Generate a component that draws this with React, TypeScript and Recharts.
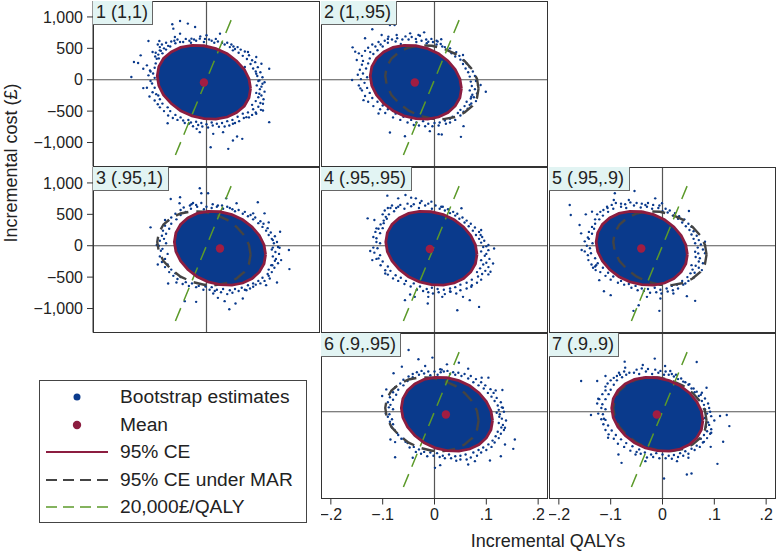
import { ScatterChart, Scatter, XAxis, YAxis } from "recharts";

type Pair = [number, number];

const xTicks = [-0.2, -0.1, 0, 0.1, 0.2];
const yTicks = [-1000, -500, 0, 500, 1000];
const xDomain: Pair = [-0.219, 0.219];
const yDomain: Pair = [-1382, 1254];

const thresholdLine: Pair[] = [[-0.06, -1200], [0.0525, 1050]];
const zeroH: Pair[] = [[-0.219, 0], [0.219, 0]];
const zeroV: Pair[] = [[0, -1382], [0, 1254]];

// confidence ellipses, y is about the same in every panel
const ceY = [-141, 13, 163, 299, 413, 495, 541, 547, 514, 442, 338, 208, 61, -93, -243, -379, -493, -575, -621, -627, -594, -522, -418, -288, -141];
const ce1X = [.085, .082, .073, .058, .040, .018, -.005, -.028, -.050, -.068, -.083, -.092, -.095, -.092, -.083, -.068, -.050, -.028, -.005, .018, .040, .058, .073, .082, .085];
const ce2X = [.052, .049, .040, .026, .008, -.013, -.036, -.059, -.080, -.098, -.112, -.121, -.124, -.121, -.112, -.098, -.080, -.059, -.036, -.013, .008, .026, .040, .049, .052];
const ce3X = [.114, .111, .102, .088, .070, .049, .026, .003, -.018, -.036, -.050, -.059, -.062, -.059, -.050, -.036, -.018, .003, .026, .049, .070, .088, .102, .111, .114];
const ce4X = [.082, .079, .070, .056, .038, .017, -.006, -.029, -.050, -.068, -.082, -.091, -.094, -.091, -.082, -.068, -.050, -.029, -.006, .017, .038, .056, .070, .079, .082];
const ce5X = [.048, .045, .036, .022, .004, -.017, -.040, -.063, -.084, -.102, -.116, -.125, -.128, -.125, -.116, -.102, -.084, -.063, -.040, -.017, .004, .022, .036, .045, .048];
const ce6X = [.112, .109, .100, .086, .068, .047, .024, .001, -.020, -.038, -.052, -.061, -.064, -.061, -.052, -.038, -.020, .001, .024, .047, .068, .086, .100, .109, .112];
const ce7X = [.078, .075, .066, .052, .034, .013, -.010, -.033, -.054, -.072, -.086, -.095, -.098, -.095, -.086, -.072, -.054, -.033, -.010, .013, .034, .052, .066, .075, .078];

// bootstrap estimates outside the solid core, read by eye
const cloud1: Pair[] = [
  [-.051, 936], [-.066, 883], [-.036, 894], [-.022, 840], [-.064, 814], [-.051, 734], [-.061, 681], [-.112, 617], [-.091, 617], [-.145, 43], [-.140, 282], [-.132, 266], [-.127, 388], [-.122, 176], [-.115, 229], [-.109, 149], [-.122, -133], [-.115, -128], [-.110, -266], [-.100, -128], [-.093, -250], [-.090, 468], [-.104, 441], [-.096, 335], [-.075, -692], [.121, 176], [.121, -676], [.106, 255], [.096, 362], [.080, 441], [.108, -64], [.109, -490], [.008, -1075], [.042, -1101], [.069, -942], [.059, -904], [.051, -968], [.013, -862], [-.019, -782], [-.045, -649], [-.013, -835], [.032, -835], [.051, -702], [.077, -596], [.096, -543], [.109, -383], [.102, -223], [.102, -11], [.096, 96], [.074, 202], [.051, 468], [.026, 734], [0, 708], [-.013, 654], [-.029, 654], [-.051, 601],
  [-.06, 580], [-.045, 600], [-.03, 590], [-.02, 620], [-.005, 600], [.005, 640], [.015, 590], [.022, 610], [.035, 560], [.045, 520], [.055, 490], [.062, 430], [.07, 380], [.078, 330], [.085, 250], [.09, 180], [.095, 130], [.098, 60], [.1, -20], [.097, -90], [.103, -150], [.096, -210], [.1, -280], [.095, -340], [.088, -400], [.09, -470], [.08, -520], [.07, -540], [.06, -590], [.05, -640], [.04, -660], [.03, -690], [.02, -700], [.01, -680], [0, -710], [-.01, -690], [-.02, -670], [-.03, -680], [-.035, -640], [-.05, -600], [-.06, -560], [-.07, -500], [-.075, -440], [-.085, -380], [-.09, -310], [-.097, -230], [-.105, -60], [-.1, 30], [-.103, 100], [-.1, 190], [-.098, 260], [-.092, 340], [-.085, 420], [-.078, 480], [-.07, 530],
  [-.094, 560], [-.09, 520], [-.086, 560], [-.082, 500], [-.078, 590], [-.074, 540], [-.098, 430], [-.093, 400], [-.088, 460], [-.099, 370], [-.068, 610], [-.062, 620], [-.056, 640], [-.04, 650], [-.033, 620], [-.024, 640], [-.012, 690], [-.003, 650], [.01, 620], [.018, 650], [.03, 590], [.04, 590], [.048, 560], [.052, 530], [.06, 520], [.066, 480], [.074, 450], [.082, 390], [.088, 310], [.094, 280], [.099, 200], [.104, 120], [.108, 40], [.112, -40], [.106, -110], [.112, -190], [.106, -250], [.11, -310], [.104, -370], [.1, -430], [.105, -480], [.095, -520], [.088, -560], [.082, -600], [.072, -610], [.063, -660], [.055, -690], [.044, -730], [.035, -745], [.024, -750], [.012, -730], [.003, -760], [-.008, -745], [-.016, -720], [-.026, -740], [-.034, -700], [-.042, -690], [-.056, -640], [-.065, -610], [-.074, -570], [-.082, -500], [-.09, -440], [-.094, -390], [-.1, -330], [-.104, -200], [-.108, -20], [-.112, 70], [-.108, 130],
];
const cloud2: Pair[] = [
  [-.120, 803], [-.086, 872], [-.077, 872], [-.073, 713], [-.089, 686], [-.102, 713], [-.134, 660], [-.158, 516], [-.153, 447], [-.150, 314], [-.159, -5], [-.143, -138], [-.137, -325], [-.108, -537], [-.086, -840], [-.057, -899], [-.009, -819], [.008, -867], [.014, -872], [.051, -910], [.056, -739], [.099, -192], [.089, -85], [.071, -271], [.071, -378], [.055, 394], [.039, 420], [.013, 644], [.004, 622], [-.020, 755], [-.031, 713], [-.047, 739], [-.012, 606],
  [-.09, 590], [-.075, 610], [-.065, 570], [-.05, 640], [-.035, 600], [-.025, 620], [-.015, 580], [-.003, 600], [.004, 560], [.015, 530], [.025, 480], [.033, 420], [.04, 370], [.05, 320], [.055, 250], [.06, 180], [.065, 120], [.068, 50], [.07, -30], [.072, -100], [.068, -170], [.073, -240], [.07, -300], [.062, -350], [.058, -420], [.05, -480], [.045, -530], [.035, -590], [.03, -620], [.02, -650], [.01, -680], [0, -690], [-.012, -700], [-.022, -660], [-.035, -680], [-.045, -640], [-.06, -590], [-.075, -540], [-.09, -470], [-.1, -410], [-.11, -350], [-.12, -290], [-.125, -210], [-.13, -130], [-.135, -50], [-.13, 40], [-.138, 100], [-.132, 180], [-.128, 260], [-.125, 340], [-.118, 410], [-.11, 470], [-.1, 530],
  [-.146, 420], [-.14, 380], [-.134, 460], [-.128, 510], [-.124, 440], [-.12, 560], [-.114, 530], [-.108, 600], [-.104, 560], [-.096, 620], [-.09, 650], [-.082, 640], [-.072, 660], [-.062, 640], [-.056, 690], [-.044, 680], [-.036, 650], [-.028, 700], [-.016, 640], [-.006, 650], [.006, 610], [.012, 570], [.02, 520], [.03, 500], [.042, 440], [.048, 380], [.056, 310], [.062, 260], [.068, 200], [.074, 130], [.078, 60], [.08, -20], [.084, -90], [.078, -150], [.082, -220], [.076, -280], [.08, -340], [.068, -400], [.064, -460], [.056, -510], [.05, -570], [.04, -640], [.03, -680], [.022, -700], [.008, -730], [-.004, -740], [-.018, -740], [-.03, -730], [-.04, -720], [-.052, -680], [-.066, -640], [-.08, -600], [-.095, -530], [-.105, -470], [-.118, -420], [-.128, -350], [-.134, -260], [-.14, -170], [-.146, -90], [-.142, 10], [-.148, 80], [-.144, 160], [-.14, 240], [-.138, 300],
];
const cloud3: Pair[] = [
  [-.013, 915], [.003, 835], [-.010, 835], [-.069, 745], [-.051, 771], [-.052, 676], [-.029, 660], [.038, 755], [.099, 692], [.058, 676], [-.108, 293], [.142, 223], [.159, -69], [.160, -372], [.144, -229], [.136, -585], [-.094, -298], [-.074, -601], [-.058, -585], [-.042, -883], [-.020, -894], [.013, -761], [.022, -830], [.035, -883], [.044, -1011], [.056, -920], [.070, -840], [.077, -708], [.090, -654], [.115, -628], [.122, -521], [.125, -309], [.141, -32], [.128, 90], [.120, 372], [.112, 516], [.090, 516], [-.096, 11], [-.080, 410],
  [-.03, 590], [-.018, 620], [-.005, 580], [.01, 600], [.022, 640], [.032, 590], [.045, 600], [.055, 550], [.07, 510], [.08, 470], [.09, 420], [.1, 360], [.108, 300], [.115, 240], [.12, 170], [.126, 110], [.13, 40], [.128, -30], [.133, -100], [.128, -170], [.132, -240], [.127, -310], [.12, -380], [.118, -450], [.108, -510], [.1, -560], [.09, -600], [.08, -630], [.068, -670], [.055, -690], [.045, -710], [.032, -690], [.02, -700], [.01, -660], [-.002, -650], [-.015, -640], [-.028, -600], [-.04, -580], [-.05, -500], [-.06, -440], [-.068, -380], [-.075, -300], [-.08, -210], [-.075, -130], [-.085, -50], [-.078, 40], [-.082, 110], [-.078, 190], [-.072, 270], [-.068, 350], [-.058, 420], [-.05, 490], [-.04, 540],
  [-.032, 640], [-.026, 680], [-.02, 650], [-.01, 680], [0, 620], [.012, 660], [.02, 620], [.03, 640], [.04, 620], [.05, 580], [.062, 570], [.074, 540], [.085, 490], [.094, 450], [.104, 390], [.11, 350], [.118, 280], [.124, 210], [.132, 150], [.136, 60], [.138, -20], [.126, -60], [.14, -130], [.134, -210], [.138, -280], [.131, -350], [.126, -420], [.12, -480], [.112, -560], [.104, -600], [.095, -620], [.084, -680], [.074, -700], [.062, -720], [.05, -750], [.04, -770], [.028, -740], [.016, -720], [.006, -700], [-.006, -700], [-.02, -660], [-.034, -640], [-.046, -610], [-.056, -530], [-.064, -480], [-.072, -420], [-.08, -340], [-.086, -260], [-.09, -170], [-.088, -80], [-.092, 0], [-.09, 80], [-.086, 160], [-.084, 240], [-.08, 320], [-.074, 400], [-.068, 450], [-.06, 510], [-.05, 570], [-.044, 610],
];
const cloud4: Pair[] = [
  [-.091, 798], [-.056, 809], [-.045, 766], [-.070, 755], [-.129, 436], [-.116, 410], [-.112, 277], [-.124, -85], [-.120, -229], [-.108, -202], [-.095, -442], [-.057, -867], [-.047, -777], [-.038, -814], [-.013, -920], [-.012, -814], [.015, -814], [.031, -734], [.044, -1027], [.086, -974], [.068, -867], [.055, -814], [.071, -654], [.104, -457], [.108, -415], [.113, -282], [.115, -43], [.104, 11], [.090, 250], [.089, 170], [.052, 596], [.013, 622], [-.006, 702], [-.025, 713], [-.036, 755],
  [-.085, 600], [-.07, 620], [-.058, 590], [-.045, 630], [-.03, 600], [-.018, 640], [-.005, 590], [.01, 590], [.02, 560], [.03, 520], [.04, 480], [.048, 430], [.058, 370], [.066, 310], [.074, 240], [.08, 170], [.086, 110], [.09, 50], [.094, -20], [.09, -90], [.097, -160], [.09, -230], [.094, -300], [.088, -360], [.082, -420], [.084, -490], [.072, -540], [.062, -590], [.05, -620], [.04, -660], [.03, -680], [.018, -700], [.006, -690], [-.005, -670], [-.015, -690], [-.028, -650], [-.04, -600], [-.055, -560], [-.065, -510], [-.075, -470], [-.085, -400], [-.09, -330], [-.1, -250], [-.105, -150], [-.11, -40], [-.105, 40], [-.112, 120], [-.105, 200], [-.1, 280], [-.098, 360], [-.092, 430], [-.088, 500], [-.078, 550],
  [-.1, 500], [-.096, 560], [-.094, 460], [-.098, 400], [-.104, 340], [-.108, 270], [-.09, 600], [-.082, 640], [-.074, 600], [-.066, 650], [-.052, 670], [-.04, 660], [-.028, 680], [-.012, 670], [.002, 640], [.016, 620], [.026, 580], [.036, 540], [.044, 510], [.054, 450], [.062, 400], [.07, 350], [.078, 290], [.086, 220], [.092, 140], [.096, 80], [.1, -10], [.104, -70], [.1, -130], [.106, -210], [.1, -270], [.104, -340], [.098, -400], [.092, -450], [.09, -540], [.082, -590], [.072, -630], [.062, -680], [.05, -710], [.042, -760], [.03, -730], [.02, -770], [.008, -740], [-.003, -760], [-.012, -740], [-.022, -720], [-.034, -700], [-.046, -650], [-.058, -610], [-.07, -560], [-.08, -520], [-.09, -460], [-.095, -390], [-.104, -310], [-.112, -210], [-.116, -110], [-.118, -30], [-.112, 60], [-.118, 140], [-.114, 220],
];
const cloud5: Pair[] = [
  [-.179, 649], [-.177, 489], [-.092, 835], [-.054, 872], [-.094, 729], [-.107, 622], [-.136, 543], [-.148, 500], [-.160, 330], [-.157, 197], [-.156, -69], [-.143, -229], [-.129, -388], [-.122, -548], [-.113, -724], [-.100, -787], [-.056, -1037], [-.006, -1037], [-.046, -947], [-.004, -841], [-.030, -814], [.063, -878], [.047, -803], [.021, -761], [.082, 64], [.051, 553], [-.001, 676], [-.014, 755], [-.033, 649], [-.065, 729], [.063, -96], [.069, -122], [.056, -309], [.076, -388], [.044, -601],
  [-.095, 590], [-.08, 620], [-.07, 600], [-.055, 640], [-.042, 610], [-.03, 620], [-.02, 590], [-.008, 600], [0, 550], [.01, 530], [.02, 480], [.03, 430], [.038, 370], [.045, 310], [.052, 250], [.056, 180], [.06, 110], [.063, 40], [.068, -30], [.064, -180], [.07, -250], [.064, -320], [.058, -380], [.054, -440], [.048, -500], [.038, -560], [.028, -620], [.018, -640], [.008, -680], [-.004, -700], [-.015, -670], [-.028, -690], [-.04, -680], [-.052, -640], [-.065, -610], [-.08, -560], [-.095, -490], [-.105, -430], [-.115, -350], [-.125, -280], [-.13, -200], [-.138, -120], [-.14, -40], [-.135, 40], [-.142, 110], [-.136, 190], [-.132, 270], [-.13, 350], [-.122, 420], [-.115, 480], [-.105, 540],
  [-.136, 300], [-.13, 420], [-.126, 500], [-.12, 540], [-.114, 570], [-.106, 600], [-.098, 650], [-.09, 680], [-.08, 670], [-.072, 660], [-.062, 690], [-.05, 680], [-.04, 670], [-.028, 680], [-.018, 650], [-.006, 640], [.006, 590], [.014, 560], [.024, 520], [.032, 470], [.042, 420], [.05, 350], [.056, 300], [.06, 230], [.066, 160], [.07, 90], [.074, 20], [.078, -60], [.082, -120], [.072, -200], [.078, -280], [.07, -350], [.062, -430], [.06, -510], [.05, -560], [.04, -620], [.03, -680], [.02, -710], [.01, -730], [-.002, -760], [-.012, -740], [-.024, -750], [-.036, -720], [-.048, -710], [-.06, -670], [-.074, -620], [-.086, -590], [-.1, -540], [-.11, -480], [-.12, -420], [-.13, -330], [-.137, -300], [-.134, -350], [-.128, -310], [-.144, -150], [-.15, -90], [-.146, 0], [-.15, 70], [-.144, 130], [-.142, 220],
];
const cloud6: Pair[] = [
  [-.050, 984], [-.004, 862], [-.031, 835], [-.063, 718], [-.079, 612], [-.101, 250], [-.093, 356], [-.085, -442], [-.076, -484], [-.076, -724], [-.042, -734], [.011, -851], [.001, -894], [.065, -840], [.078, -787], [.107, -777], [.128, -708], [.152, -591], [.155, -442], [.136, -521], [.136, -255], [.132, 64], [.131, 346], [.118, 340], [.104, 543], [.065, 686], [.047, 782], [.024, 755], [.011, 676], [-.018, 729], [.091, 543], [.120, -16],
  [-.03, 590], [-.02, 610], [-.008, 580], [.006, 590], [.018, 640], [.03, 600], [.04, 590], [.052, 570], [.065, 530], [.075, 470], [.085, 420], [.095, 370], [.103, 300], [.11, 240], [.116, 170], [.122, 100], [.124, 30], [.126, -40], [.13, -110], [.124, -180], [.129, -250], [.122, -320], [.118, -390], [.112, -460], [.104, -520], [.094, -570], [.085, -610], [.075, -650], [.06, -680], [.05, -700], [.04, -710], [.028, -680], [.016, -700], [.005, -660], [-.008, -650], [-.02, -640], [-.03, -600], [-.04, -560], [-.052, -500], [-.06, -430], [-.07, -370], [-.077, -290], [-.08, -200], [-.082, -120], [-.087, -40], [-.08, 40], [-.085, 110], [-.08, 190], [-.074, 270], [-.07, 350], [-.06, 420], [-.052, 490], [-.042, 550],
  [-.05, 560], [-.042, 600], [-.034, 630], [-.025, 650], [-.012, 640], [0, 640], [.012, 630], [.014, 670], [.025, 650], [.036, 630], [.046, 620], [.058, 600], [.07, 570], [.08, 520], [.09, 470], [.098, 420], [.108, 360], [.114, 300], [.12, 220], [.128, 150], [.13, 70], [.134, 0], [.125, -80], [.138, -140], [.132, -210], [.134, -290], [.128, -350], [.124, -420], [.116, -490], [.11, -560], [.1, -610], [.09, -650], [.082, -700], [.07, -730], [.062, -760], [.05, -760], [.042, -780], [.032, -740], [.02, -740], [.01, -720], [-.002, -700], [-.014, -710], [-.026, -670], [-.036, -640], [-.048, -570], [-.056, -480], [-.064, -430], [-.072, -340], [-.082, -250], [-.086, -160], [-.09, -80], [-.094, -30], [-.088, 70], [-.09, 150], [-.086, 230], [-.08, 310], [-.076, 390], [-.066, 450], [-.06, 510],
];
const cloud7: Pair[] = [
  [-.157, 489], [-.126, 489], [-.073, 798], [-.015, 846], [.066, 793], [-.038, 745], [-.110, 569], [-.124, 207], [-.138, -53], [-.113, -112], [-.105, -415], [-.085, -681], [-.079, -814], [.003, -1064], [.047, -1000], [.056, -984], [.106, -830], [.117, -479], [.129, -229], [.124, -53], [.111, -69], [.093, -559], [.094, -335], [.085, 383], [.076, 303], [.050, -734], [.028, -787], [-.033, -787], [-.052, -681], [.015, 649], [.005, 729], [-.072, 702], [-.084, 622],
  [-.07, 590], [-.055, 620], [-.045, 600], [-.032, 640], [-.02, 600], [-.008, 620], [.003, 590], [.012, 590], [.022, 560], [.03, 520], [.04, 480], [.05, 430], [.056, 370], [.062, 310], [.07, 250], [.076, 170], [.08, 110], [.082, 40], [.086, -30], [.082, -100], [.088, -170], [.084, -240], [.086, -310], [.08, -370], [.074, -430], [.078, -490], [.066, -540], [.056, -590], [.044, -630], [.034, -660], [.022, -690], [.012, -700], [0, -680], [-.012, -660], [-.022, -680], [-.034, -650], [-.045, -600], [-.058, -550], [-.07, -500], [-.08, -440], [-.09, -370], [-.098, -300], [-.105, -220], [-.11, -130], [-.115, -40], [-.11, 40], [-.116, 120], [-.11, 200], [-.104, 280], [-.1, 350], [-.094, 430], [-.088, 500], [-.078, 550],
  [-.11, 400], [-.106, 450], [-.1, 500], [-.094, 540], [-.088, 570], [-.082, 590], [-.074, 640], [-.064, 620], [-.05, 670], [-.04, 690], [-.028, 680], [-.014, 670], [-.004, 650], [.006, 640], [.018, 600], [.026, 590], [.036, 530], [.044, 470], [.052, 440], [.06, 370], [.066, 320], [.074, 270], [.082, 210], [.088, 130], [.09, 60], [.092, 0], [.094, -70], [.1, -140], [.09, -210], [.094, -280], [.092, -350], [.086, -420], [.08, -480], [.072, -560], [.062, -610], [.05, -670], [.04, -700], [.03, -720], [.018, -750], [.006, -740], [-.006, -740], [-.018, -720], [-.03, -730], [-.042, -670], [-.05, -640], [-.062, -620], [-.074, -560], [-.086, -510], [-.094, -430], [-.104, -360], [-.11, -290], [-.114, -200], [-.118, -120], [-.124, -30], [-.118, 60], [-.126, 130], [-.122, 200], [-.116, 280], [-.11, 340],
];

const means: Pair[] = [[-.005, -43], [-.038, -43], [.026, -43], [-.009, -53], [-.041, -43], [.022, -43], [-.011, -43]];
const panelLabels = ["1 (1,1)", "2 (1,.95)", "3 (.95,1)", "4 (.95,.95)", "5 (.95,.9)", "6 (.9,.95)", "7 (.9,.9)"];
const labelWidths = [60, 76, 76, 91, 81, 80, 70];

const legendLabels = ["Bootstrap estimates", "Mean", "95% CE", "95% CE under MAR", "20,000£/QALY"];

const BLUE = "#0a3a8c";
const RED = "#8c1d40";
const MAR = "#444444";
const GREEN = "#5c9a2a";
const FONT = '"Liberation Sans", Arial, sans-serif';

const toPoints = (list: Pair[]) => list.map(([x, y]) => ({ x, y }));
const ellipse = (xs: number[]) => xs.map((x, i) => ({ x, y: ceY[i] }));

const noDot = () => <g />;
const smallDot = (p: any) => <circle cx={p.cx} cy={p.cy} r={1.2} fill={BLUE} />;
const meanDot = (p: any) => <circle cx={p.cx} cy={p.cy} r={4.2} fill="#a11d42" />;

const fmtX = (v: number) => (v === 0 ? "0" : (v < 0 ? "\u2212" : "") + String(Math.abs(v)).replace(/^0/, ""));
const fmtY = (v: number) => (v < 0 ? "\u2212" : "") + Math.abs(v).toLocaleString("en-US");

const pathSeries = (key: string, data: { x: number; y: number }[], line: any) => (
  <Scatter key={key} data={data} line={line} shape={noDot} isAnimationActive={false} />
);

interface PanelProps {
  index: number;
  left: number;
  top: number;
  cloud: Pair[];
  ce: number[];
  showMar?: boolean;
  showY?: boolean;
  showX?: boolean;
}

function Panel({ index, left, top, cloud, ce, showMar, showY, showX }: PanelProps) {
  const plotW = 227;
  const plotH = 165.5;
  const yW = showY ? 93 : 0;
  const xH = showX ? 53 : 0;
  const tick = { fill: "#222", fontSize: 16, fontFamily: FONT };
  return (
    <div style={{ position: "absolute", left, top, width: plotW, height: plotH }}>
      <div style={{ position: "absolute", left: -yW, top: 0 }}>
        <ScatterChart width={plotW + yW} height={plotH + xH} margin={{ top: 0, right: 0, bottom: 0, left: 0 }}>
          <XAxis
            type="number"
            dataKey="x"
            domain={xDomain}
            ticks={xTicks}
            allowDataOverflow
            hide={!showX}
            height={xH}
            tick={tick}
            tickFormatter={fmtX}
            tickSize={6}
            tickMargin={4}
            interval={0}
            stroke="#333"
          />
          <YAxis
            type="number"
            dataKey="y"
            domain={yDomain}
            ticks={yTicks}
            allowDataOverflow
            hide={!showY}
            width={yW}
            tick={tick}
            tickFormatter={fmtY}
            tickSize={6}
            tickMargin={4}
            interval={0}
            stroke="#333"
          />
          {pathSeries("h", toPoints(zeroH), { stroke: "#555", strokeWidth: 1.2 })}
          {pathSeries("v", toPoints(zeroV), { stroke: "#555", strokeWidth: 1.2 })}
          <Scatter data={toPoints(cloud)} shape={smallDot} isAnimationActive={false} />
          {pathSeries("core", ellipse(ce), { stroke: "none", fill: BLUE })}
          {showMar ? pathSeries("mar", ellipse(ce1X), { stroke: MAR, strokeWidth: 2.4, strokeDasharray: "13 8", fill: "none" }) : null}
          {pathSeries("green", toPoints(thresholdLine), { stroke: GREEN, strokeWidth: 1.5, strokeDasharray: "14 8" })}
          {pathSeries("ce", ellipse(ce), { stroke: RED, strokeWidth: 2.8, fill: "none" })}
          <Scatter data={toPoints([means[index]])} shape={meanDot} isAnimationActive={false} />
        </ScatterChart>
      </div>
      <div style={{ position: "absolute", inset: 0, border: "1px solid #333", boxSizing: "border-box", pointerEvents: "none" }} />
      <div
        style={{
          position: "absolute",
          left: 0,
          top: 0,
          width: labelWidths[index],
          height: 24,
          boxSizing: "border-box",
          background: "#e2f4f3",
          borderRight: "1px solid #666",
          borderBottom: "1px solid #666",
          fontFamily: FONT,
          fontSize: 18,
          lineHeight: "23px",
          paddingLeft: 3,
          color: "#222",
          whiteSpace: "nowrap",
        }}
      >
        {panelLabels[index]}
      </div>
    </div>
  );
}

function LegendSwatch({ index }: { index: number }) {
  return (
    <svg width={66} height={12} style={{ position: "absolute", left: 6, top: 8 }}>
      {index === 0 ? <circle cx={31} cy={6} r={3.5} fill={BLUE} /> : null}
      {index === 1 ? <circle cx={31} cy={6} r={4.2} fill={RED} /> : null}
      {index === 2 ? <line x1={0} x2={62} y1={6} y2={6} stroke={RED} strokeWidth={2} /> : null}
      {index === 3 ? <line x1={0} x2={62} y1={6} y2={6} stroke={MAR} strokeWidth={2} strokeDasharray="11 6" /> : null}
      {index === 4 ? <line x1={0} x2={62} y1={6} y2={6} stroke={GREEN} strokeWidth={1.5} strokeDasharray="11 6" /> : null}
    </svg>
  );
}

export default function App() {
  return (
    <div style={{ position: "absolute", left: 0, top: 0, width: 777, height: 552, overflow: "hidden", background: "#fff" }}>
      <Panel index={0} left={93} top={1} cloud={cloud1} ce={ce1X} showY />
      <Panel index={1} left={321} top={1} cloud={cloud2} ce={ce2X} showMar />
      <Panel index={2} left={93} top={167} cloud={cloud3} ce={ce3X} showMar showY />
      <Panel index={3} left={321} top={167} cloud={cloud4} ce={ce4X} />
      <Panel index={4} left={549} top={167} cloud={cloud5} ce={ce5X} showMar />
      <Panel index={5} left={321} top={333} cloud={cloud6} ce={ce6X} showMar showX />
      <Panel index={6} left={549} top={333} cloud={cloud7} ce={ce7X} showMar showX />

      <div
        style={{
          position: "absolute",
          left: 11,
          top: 163,
          transform: "translate(-50%, -50%) rotate(-90deg)",
          fontFamily: FONT,
          fontSize: 18,
          color: "#222",
          whiteSpace: "nowrap",
        }}
      >
        Incremental cost (£)
      </div>
      <div
        style={{
          position: "absolute",
          left: 548,
          top: 541,
          transform: "translate(-50%, -50%)",
          fontFamily: FONT,
          fontSize: 18,
          color: "#222",
          whiteSpace: "nowrap",
        }}
      >
        Incremental QALYs
      </div>

      <div
        style={{
          position: "absolute",
          left: 39,
          top: 380,
          width: 268,
          height: 143,
          boxSizing: "border-box",
          border: "1px solid #444",
          background: "#fff",
        }}
      >
        {legendLabels.map((label, i) => (
          <div
            key={label}
            style={{
              position: "absolute",
              left: 0,
              top: 2 + i * 27.5,
              height: 28,
              width: "100%",
              fontFamily: FONT,
              fontSize: 19.2,
              lineHeight: "28px",
              color: "#222",
            }}
          >
            <LegendSwatch index={i} />
            <span style={{ position: "absolute", left: 80, whiteSpace: "nowrap" }}>{label}</span>
          </div>
        ))}
      </div>
    </div>
  );
}
